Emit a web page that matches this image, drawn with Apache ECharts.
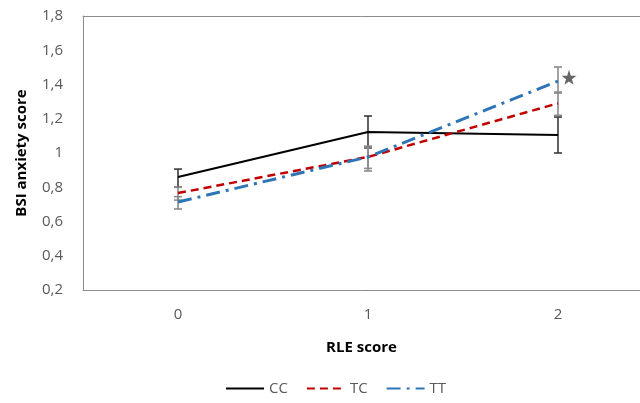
<!DOCTYPE html>
<html><head><meta charset="utf-8">
<script src="https://cdn.jsdelivr.net/npm/echarts@6/dist/echarts.min.js"></script>
<style>html,body{margin:0;padding:0;background:#fff}#c{width:640px;height:403px}</style>
</head><body><div id="c"></div>
<script>
const categories = [0, 1, 2];
const ccMean = [0.86, 1.123, 1.105];
const ccLow  = [0.80, 1.03, 1.00];
const ccHigh = [0.906, 1.216, 1.21];
const tcMean = [0.766, 0.977, 1.29];
const tcLow  = [0.725, 0.91, 1.22];
const tcHigh = [0.80, 1.04, 1.356];
const ttMean = [0.714, 0.977, 1.42];
const ttLow  = [0.673, 0.895, 1.35];
const ttHigh = [0.745, 1.035, 1.502];
const yTicks = { min: 0.2, max: 1.8, interval: 0.2 };
const xRange = { min: -0.5, max: 2.4316 };
const starPoint = [2, 1.43];

const FONT = '"Open Sans", "Liberation Sans", sans-serif';
const BORDER = { show: true, onZero: false, lineStyle: { color: '#8c8c8c', width: 1 } };

function errSeries(name, low, high, color) {
  return {
    type: 'custom', name: name + '_err', silent: true, z: 1,
    data: categories.map((c, i) => [c, low[i], high[i]]),
    renderItem: function (params, api) {
      const x = api.value(0);
      const p1 = api.coord([x, api.value(1)]);
      const p2 = api.coord([x, api.value(2)]);
      const w = 4;
      const st = { stroke: color, lineWidth: 1.6 };
      return { type: 'group', children: [
        { type: 'line', shape: { x1: p1[0], y1: p1[1], x2: p2[0], y2: p2[1] }, style: st },
        { type: 'line', shape: { x1: p1[0]-w, y1: p1[1], x2: p1[0]+w, y2: p1[1] }, style: st },
        { type: 'line', shape: { x1: p2[0]-w, y1: p2[1], x2: p2[0]+w, y2: p2[1] }, style: st }
      ]};
    }
  };
}
function lineData(mean) { return categories.map((c, i) => [c, mean[i]]); }

const chart = echarts.init(document.getElementById('c'));
chart.setOption({
  animation: false,
  grid: { left: 83, top: 16, right: 0, height: 274 },
  legend: {
    bottom: 2, left: 220, itemWidth: 38, itemHeight: 10, itemGap: 18,
    data: ['CC', 'TC', 'TT'],
    itemStyle: { opacity: 0 },
    textStyle: { fontFamily: FONT, fontSize: 15, color: '#595959' }
  },
  xAxis: [{
    type: 'value', min: xRange.min, max: xRange.max,
    splitLine: { show: false }, axisLine: BORDER, axisTick: { show: false },
    axisLabel: { customValues: categories, margin: 17, fontFamily: FONT, fontSize: 15, color: '#595959' },
    name: 'RLE score', nameLocation: 'middle', nameGap: 50,
    nameTextStyle: { fontFamily: FONT, fontSize: 15, fontWeight: 'bold', color: '#000' }
  }, {
    type: 'value', position: 'top', min: xRange.min, max: xRange.max,
    splitLine: { show: false }, axisLine: BORDER, axisTick: { show: false }, axisLabel: { show: false }
  }],
  yAxis: {
    type: 'value', min: yTicks.min, max: yTicks.max, interval: yTicks.interval,
    splitLine: { show: false }, axisLine: BORDER, axisTick: { show: false },
    axisLabel: { margin: 20, fontFamily: FONT, fontSize: 15, color: '#595959',
      formatter: v => String(Math.round(v * 10) / 10).replace('.', ',') },
    name: 'BSI anxiety score', nameLocation: 'middle', nameGap: 54, nameRotate: 90,
    nameTextStyle: { fontFamily: FONT, fontSize: 15, fontWeight: 'bold', color: '#000' }
  },
  series: [
    errSeries('CC', ccLow, ccHigh, '#3a3a3a'),
    errSeries('TC', tcLow, tcHigh, '#8a8a8a'),
    errSeries('TT', ttLow, ttHigh, '#8a8a8a'),
    { name: 'CC', type: 'line', data: lineData(ccMean), symbol: 'none', z: 3,
      lineStyle: { color: '#000', width: 2 }, itemStyle: { color: '#000' } },
    { name: 'TC', type: 'line', data: lineData(tcMean), symbol: 'none', z: 3,
      lineStyle: { color: '#c00000', width: 2.5, type: [8, 5] }, itemStyle: { color: '#c00000' } },
    { name: 'TT', type: 'line', data: lineData(ttMean), symbol: 'none', z: 3,
      lineStyle: { color: '#2e75b6', width: 3, type: [14, 6, 3, 6] }, itemStyle: { color: '#2e75b6' } },
    { name: 'star', type: 'scatter', data: [starPoint], z: 4, silent: true,
      symbol: 'path://M50,0 L61.8,35.1 L98.1,35.1 L68.8,56.8 L79.4,90.9 L50,69.9 L20.6,90.9 L31.2,56.8 L1.9,35.1 L38.2,35.1 Z',
      symbolSize: 15, symbolOffset: [11, -2], itemStyle: { color: '#404040' } }
  ]
});
</script></body></html>
